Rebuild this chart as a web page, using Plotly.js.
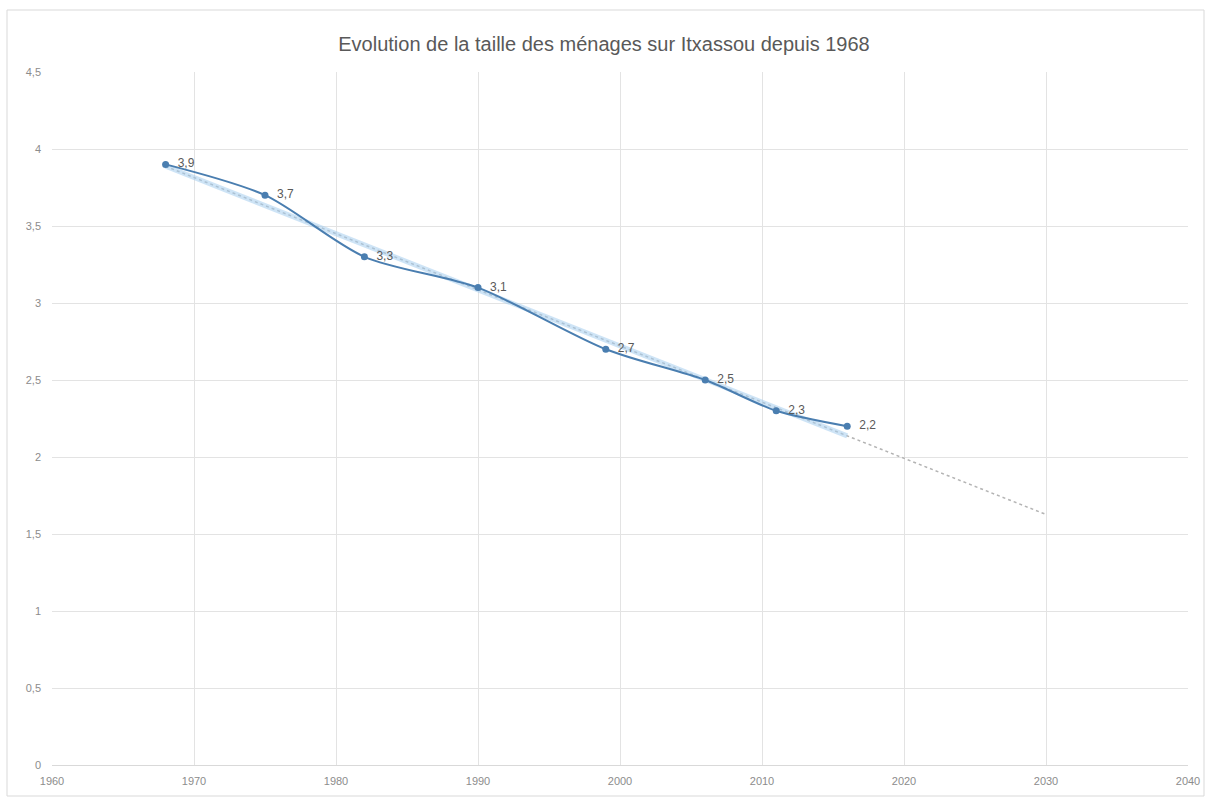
<!DOCTYPE html>
<html>
<head>
<meta charset="utf-8">
<script src="https://cdn.plot.ly/plotly-3.0.1.min.js"></script>
<style>
html,body{margin:0;padding:0;background:#fff;}
#chart{width:1208px;height:799px;}
</style>
</head>
<body>
<div id="chart"></div>
<script>
// Data
var years = [1968, 1975, 1982, 1990, 1999, 2006, 2011, 2016];
var householdSize = [3.9, 3.7, 3.3, 3.1, 2.7, 2.5, 2.3, 2.2];
var forecastEndYear = 2030;
var titleText = "Evolution de la taille des ménages sur Itxassou depuis 1968";

// Linear trendline (least squares) as in the spreadsheet chart
var n = years.length;
var mx = years.reduce(function(a,b){return a+b;},0)/n;
var my = householdSize.reduce(function(a,b){return a+b;},0)/n;
var sxy = 0, sxx = 0;
for (var i = 0; i < n; i++) { sxy += (years[i]-mx)*(householdSize[i]-my); sxx += (years[i]-mx)*(years[i]-mx); }
var slope = sxy/sxx, intercept = my - slope*mx;
function trend(x){ return intercept + slope*x; }

var labels = householdSize.map(function(v){ return '  ' + String(v).replace('.', ','); });

var fontFam = '"Liberation Sans", Arial, sans-serif';

var traces = [
  {
    x: [years[0], forecastEndYear],
    y: [trend(years[0]), trend(forecastEndYear)],
    mode: 'lines',
    line: {color: '#b4b4b4', width: 1.5, dash: 'dot'},
    hoverinfo: 'skip', showlegend: false
  },
  {
    x: [years[0], years[n-1]],
    y: [trend(years[0]), trend(years[n-1])],
    mode: 'lines',
    line: {color: 'rgba(165,205,238,0.55)', width: 5},
    hoverinfo: 'skip', showlegend: false
  },
  {
    x: years,
    y: householdSize,
    mode: 'lines+markers+text',
    line: {color: '#4a7eb0', width: 2, shape: 'spline', smoothing: 0.8},
    marker: {color: '#4a7eb0', size: 7},
    text: labels,
    textposition: 'middle right',
    textfont: {family: fontFam, size: 12, color: '#595959'},
    showlegend: false
  }
];

var layout = {
  width: 1208, height: 799,
  margin: {l: 52, r: 20, t: 72, b: 34},
  paper_bgcolor: '#ffffff', plot_bgcolor: '#ffffff',
  separators: ', ',
  font: {family: fontFam, color: '#7f7f7f', size: 11},
  title: {
    text: titleText,
    font: {family: fontFam, size: 20, color: '#595959'},
    x: 0.5, xanchor: 'center', y: 0.945, yanchor: 'middle'
  },
  xaxis: {
    range: [1960, 2040], dtick: 10, tick0: 1960,
    showgrid: true, gridcolor: '#e3e3e3', gridwidth: 1,
    zeroline: false, showline: true, linecolor: '#d9d9d9', linewidth: 1,
    ticks: '', tickfont: {size: 11, color: '#8c8c8c'}, ticklabelstandoff: 6
  },
  yaxis: {
    range: [0, 4.5], dtick: 0.5, tick0: 0,
    showgrid: true, gridcolor: '#e3e3e3', gridwidth: 1,
    zeroline: false, showline: false,
    ticks: '', tickfont: {size: 11, color: '#8c8c8c'}, ticklabelstandoff: 10
  },
  shapes: [{
    type: 'rect', xref: 'paper', yref: 'paper',
    x0: (7-52)/1136, x1: (1204-52)/1136,
    y0: -(796-765)/693, y1: (765-10)/693,
    line: {color: '#d9d9d9', width: 1}, fillcolor: 'rgba(0,0,0,0)', layer: 'below'
  }]
};

Plotly.newPlot('chart', traces, layout, {displayModeBar: false, staticPlot: true});
</script>
</body>
</html>
